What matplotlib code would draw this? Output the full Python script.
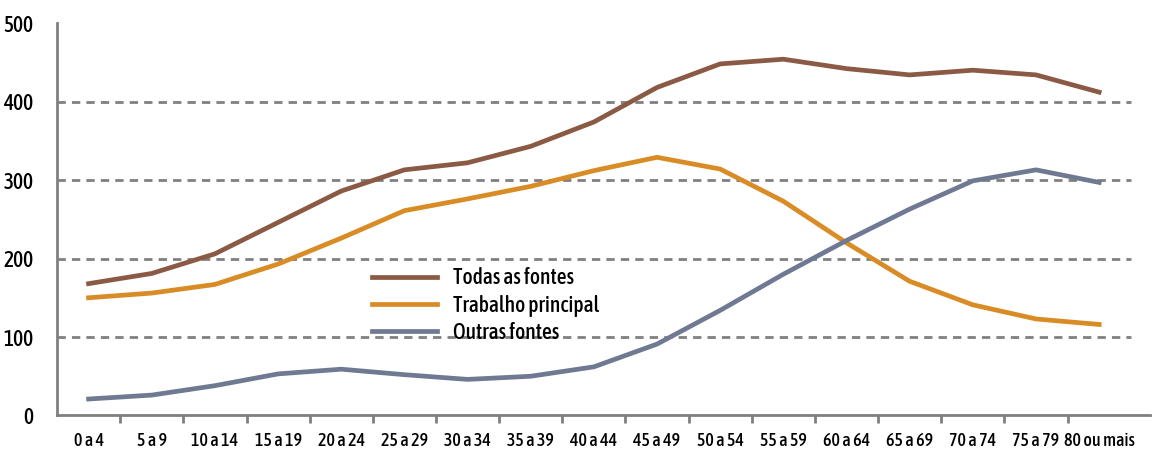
import matplotlib.pyplot as plt
from matplotlib import font_manager

# === Data ===
faixas = ["0 a 4", "5 a 9", "10 a 14", "15 a 19", "20 a 24", "25 a 29", "30 a 34",
          "35 a 39", "40 a 44", "45 a 49", "50 a 54", "55 a 59", "60 a 64",
          "65 a 69", "70 a 74", "75 a 79", "80 ou mais"]
todas = [168, 181, 206, 246, 286, 313, 322, 343, 374, 418, 448, 454, 442, 434, 440, 434, 412]
trabalho = [150, 156, 167, 193, 226, 261, 276, 292, 312, 329, 314, 273, 220, 171, 141, 123, 116]
outras = [21, 26, 38, 53, 59, 52, 46, 50, 62, 91, 134, 180, 223, 263, 299, 313, 297]

c_todas = "#8B5A44"
c_trab = "#D98B25"
c_outras = "#6F7A92"
c_axis = "#808080"

# condensed font, like the original
names = {f.name for f in font_manager.fontManager.ttflist}
fam = [n for n in ["Asap Condensed", "Archivo Narrow"] if n in names]
plt.rcParams["font.family"] = fam + ["DejaVu Sans"]
plt.rcParams["font.weight"] = "medium"

fig = plt.figure(figsize=(11.52, 4.53), dpi=100)
ax = fig.add_axes([0.0495, 0.0828, 0.9485, 0.8662])

x = list(range(len(faixas)))

for v in [100, 200, 300, 400]:
    ax.hlines(v, -0.5, 16.5, colors=c_axis, linestyles=(0, (3, 2.2)), linewidth=2, zorder=1)

ax.plot(x, todas, color=c_todas, lw=3.4, label="Todas as fontes", zorder=3)
ax.plot(x, trabalho, color=c_trab, lw=3.4, label="Trabalho principal", zorder=3)
ax.plot(x, outras, color=c_outras, lw=3.4, label="Outras fontes", zorder=3)

ax.set_xlim(-0.5, 16.8)
ax.set_ylim(0, 500)

for s in ["top", "right"]:
    ax.spines[s].set_visible(False)
for s in ["left", "bottom"]:
    ax.spines[s].set_color(c_axis)
    ax.spines[s].set_linewidth(2)

ax.set_yticks([0, 100, 200, 300, 400, 500])
ax.tick_params(axis="y", length=0, pad=17, labelsize=15.5)
ax.set_xticks(x)
ax.set_xticklabels(faixas)
ax.tick_params(axis="x", length=0, pad=12, labelsize=13)
ax.set_xticks([i + 0.5 for i in range(16)], minor=True)
ax.tick_params(axis="x", which="minor", length=6, width=2, color=c_axis, direction="out")

leg = ax.legend(loc="upper left", bbox_to_anchor=(0.323, 0.41), bbox_transform=fig.transFigure,
                frameon=False, fontsize=15.5, handlelength=3.0, handletextpad=0.75,
                labelspacing=0.25, borderpad=0, borderaxespad=0)
for line in leg.get_lines():
    line.set_linewidth(3.4)

fig.savefig("out.png", dpi=100)
